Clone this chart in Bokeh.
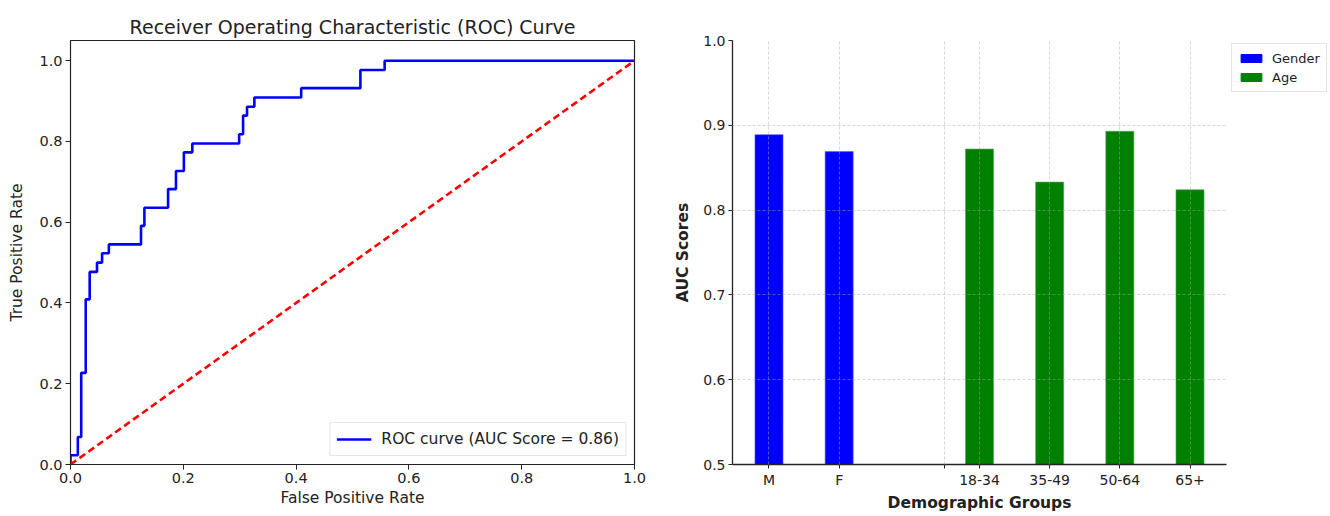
from bokeh.plotting import figure
from bokeh.models import FixedTicker, NumeralTickFormatter, Legend, LegendItem, Range1d
from bokeh.layouts import row
from bokeh.embed import file_html
from bokeh.resources import INLINE

# ---------------- data ----------------
# ROC curve: false positive rate at which the true positive rate reaches tpr[i]
fpr = [0.0, 0.0, 0.013, 0.019, 0.027, 0.034, 0.047, 0.056, 0.068, 0.125, 0.131,
       0.173, 0.187, 0.201, 0.216, 0.299, 0.306, 0.313, 0.326, 0.409, 0.514, 0.557, 1.0]
tpr = [0.0, 0.023, 0.068, 0.227, 0.409, 0.477, 0.500, 0.523, 0.545, 0.591, 0.636,
       0.682, 0.727, 0.773, 0.795, 0.818, 0.864, 0.886, 0.909, 0.932, 0.977, 1.0, 1.0]
auc_score = 0.86
chance_x = [0.0, 1.0]
chance_y = [0.0, 1.0]

gender_groups = ["M", "F"]
gender_auc = [0.889, 0.869]
gender_x = [0, 1]
age_groups = ["18-34", "35-49", "50-64", "65+"]
age_auc = [0.872, 0.833, 0.893, 0.824]
age_x = [3, 4, 5, 6]
gap_tick = 2.5

FONT = "DejaVu Sans"
TXT = "#222222"
H = 514
TOP = 40

# ---------------- left: ROC ----------------
xs, ys = [], []
for i in range(len(fpr)):
    if i > 0:
        xs.append(fpr[i]); ys.append(tpr[i - 1])
    xs.append(fpr[i]); ys.append(tpr[i])

p1 = figure(width=660, height=H, x_range=Range1d(0, 1), y_range=Range1d(0, 1.05),
            output_backend="svg", toolbar_location=None,
            title="Receiver Operating Characteristic (ROC) Curve",
            min_border_left=70, min_border_right=26, min_border_top=TOP, min_border_bottom=40)
p1.title.align = "center"
p1.title.text_font = FONT
p1.title.text_font_size = "19px"
p1.title.text_font_style = "normal"
p1.title.text_color = TXT
p1.title.standoff = 6
p1.grid.visible = False
p1.outline_line_color = TXT
p1.outline_line_width = 1.2

roc = p1.line(xs, ys, line_color="#0000ff", line_width=2.6)
p1.line(chance_x, chance_y, line_color="#ff0000", line_width=2.6, line_dash="7 4")

for ax in (p1.xaxis[0], p1.yaxis[0]):
    ax.ticker = FixedTicker(ticks=[0, 0.2, 0.4, 0.6, 0.8, 1.0])
    ax.formatter = NumeralTickFormatter(format="0.0")
    ax.minor_tick_line_color = None
    ax.major_tick_out = 5
    ax.major_tick_in = 0
    ax.major_label_text_font = FONT
    ax.major_label_text_font_size = "14.5px"
    ax.major_label_text_color = TXT
    ax.axis_label_text_font = FONT
    ax.axis_label_text_font_size = "15.5px"
    ax.axis_label_text_font_style = "normal"
    ax.axis_label_text_color = TXT
    ax.axis_line_color = TXT
    ax.major_tick_line_color = TXT
    ax.major_label_standoff = 3
p1.xaxis[0].axis_label = "False Positive Rate"
p1.yaxis[0].axis_label = "True Positive Rate"
p1.xaxis[0].axis_label_standoff = 3
p1.yaxis[0].axis_label_standoff = 10

leg1 = Legend(items=[LegendItem(label=f"ROC curve (AUC Score = {auc_score:.2f})", renderers=[roc])],
              location="bottom_right")
leg1.margin = 8
leg1.padding = 6
leg1.glyph_width = 35
leg1.label_standoff = 10
leg1.label_text_font = FONT
leg1.label_text_font_size = "15.5px"
leg1.label_text_color = TXT
leg1.border_line_color = "#cccccc"
leg1.border_line_width = 1
leg1.background_fill_alpha = 0.8
p1.add_layout(leg1)

# ---------------- right: AUC by group ----------------
p2 = figure(width=568, height=H, x_range=Range1d(-0.52, 6.52), y_range=Range1d(0.5, 1.0),
            output_backend="svg", toolbar_location=None,
            min_border_left=72, min_border_right=2, min_border_top=TOP, min_border_bottom=40)
p2.outline_line_color = None

rg = p2.vbar(x=gender_x, top=gender_auc, bottom=0.5, width=0.4, fill_color="#0000ff", line_color="#5c5cff", line_width=0.6)
ra = p2.vbar(x=age_x, top=age_auc, bottom=0.5, width=0.4, fill_color="#008000", line_color="#5aa55a", line_width=0.6)

xticks = gender_x + [gap_tick] + age_x
labels = {gender_x[i]: gender_groups[i] for i in range(len(gender_x))}
labels[gap_tick] = ""
for i in range(len(age_x)):
    labels[age_x[i]] = age_groups[i]

xa = p2.xaxis[0]
ya = p2.yaxis[0]
xa.ticker = FixedTicker(ticks=xticks)
xa.major_label_overrides = labels
ya.ticker = FixedTicker(ticks=[0.5, 0.6, 0.7, 0.8, 0.9, 1.0])
ya.formatter = NumeralTickFormatter(format="0.0")
for ax in (xa, ya):
    ax.minor_tick_line_color = None
    ax.major_tick_out = 4
    ax.major_tick_in = 0
    ax.major_label_text_font = FONT
    ax.major_label_text_font_size = "14px"
    ax.major_label_text_color = TXT
    ax.axis_label_text_font = FONT
    ax.axis_label_text_font_size = "15.5px"
    ax.axis_label_text_font_style = "bold"
    ax.axis_label_text_color = TXT
    ax.axis_line_color = TXT
    ax.axis_line_width = 1.3
    ax.major_tick_line_color = TXT
    ax.major_label_standoff = 3
xa.axis_label = "Demographic Groups"
ya.axis_label = "AUC Scores"
xa.axis_label_standoff = 3
ya.axis_label_standoff = 8

p2.xgrid.ticker = FixedTicker(ticks=xticks)
p2.ygrid.ticker = FixedTicker(ticks=[0.6, 0.7, 0.8, 0.9, 1.0])
for g in (p2.xgrid[0], p2.ygrid[0]):
    g.grid_line_color = "#a8a8a8"
    g.grid_line_alpha = 0.6
    g.grid_line_dash = "3 2"
    g.grid_line_width = 0.8
    g.level = "overlay"

# ---------------- legend panel to the right of the bar chart ----------------
p3 = figure(width=100, height=H, x_range=Range1d(0, 1), y_range=Range1d(0, 1),
            output_backend="svg", toolbar_location=None,
            x_axis_location=None, y_axis_location=None,
            min_border_left=0, min_border_right=0, min_border_top=TOP, min_border_bottom=0)
p3.outline_line_color = None
p3.grid.visible = False
# hidden copies of the two bar series, used only to draw the legend swatches
lg = p3.vbar(x=gender_x, top=gender_auc, bottom=0.5, width=0.4, fill_color="#0000ff", line_color="#0000ff", visible=False)
la = p3.vbar(x=age_x, top=age_auc, bottom=0.5, width=0.4, fill_color="#008000", line_color="#008000", visible=False)
leg2 = Legend(items=[LegendItem(label="Gender", renderers=[lg], index=0),
                     LegendItem(label="Age", renderers=[la], index=0)],
              location="top_left")
leg2.margin = 3
leg2.padding = 6
leg2.spacing = 3
leg2.glyph_width = 26
leg2.glyph_height = 10
leg2.label_standoff = 8
leg2.label_height = 16
leg2.label_text_font = FONT
leg2.label_text_font_size = "13px"
leg2.label_text_color = TXT
leg2.border_line_color = "#cccccc"
leg2.border_line_width = 1
leg2.inactive_fill_alpha = 0
p3.add_layout(leg2)

layout = row(p1, p2, p3)
open("out.html", "w").write(file_html(layout, INLINE))
